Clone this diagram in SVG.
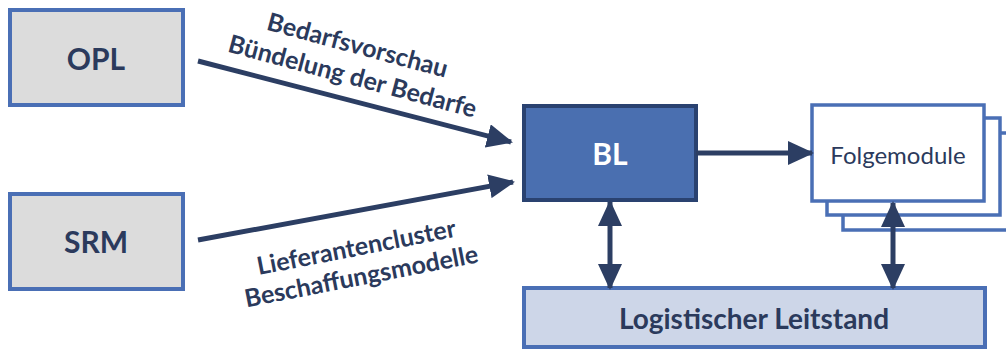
<svg xmlns="http://www.w3.org/2000/svg" width="1006" height="349" viewBox="0 0 1006 349">
<style>
.t{font-family:Lato,"Open Sans",sans-serif;fill:#2b3a5c;text-anchor:middle;dominant-baseline:central}
.b{font-weight:bold}
.gray{fill:#dcdcdc;stroke:#4a6fb5;stroke-width:4}
.fm{fill:#fff;stroke:#4a6fb5;stroke-width:3.5}
.con{stroke:#2c3e63;stroke-width:5;fill:none}
</style>
<defs>
<marker id="ah" markerUnits="userSpaceOnUse" markerWidth="26" markerHeight="24" refX="24" refY="12" orient="auto-start-reverse" viewBox="0 0 26 24">
<path d="M0,0 L26,12 L0,24 Z" fill="#2c3e63"/>
</marker>
</defs>
<rect width="1006" height="349" fill="#fff"/>
<g id="opl"><rect class="gray" x="10" y="10" width="173" height="95"/><text class="t b" x="96" y="58" font-size="30">OPL</text></g>
<g id="srm"><rect class="gray" x="10" y="194" width="173" height="95"/><text class="t b" x="96" y="241" font-size="30">SRM</text></g>
<g id="bl"><rect x="524" y="106" width="172" height="94" fill="#4a6fb0" stroke="#2a4270" stroke-width="4"/><text class="t b" x="610" y="153" font-size="30" style="fill:#fff">BL</text></g>
<g id="folgemodule">
<rect class="fm" x="843" y="133" width="180" height="97"/>
<rect class="fm" x="827" y="118" width="173" height="97"/>
<rect class="fm" x="812" y="105" width="172" height="96"/>
<text class="t" x="898" y="154" font-size="24">Folgemodule</text>
</g>
<g id="leitstand"><rect x="524" y="288" width="461" height="59" fill="#cdd6e8" stroke="#4a6fb5" stroke-width="4"/><text class="t b" x="754" y="318" font-size="28">Logistischer Leitstand</text></g>
<g id="connectors">
<line class="con" x1="198" y1="61" x2="511" y2="142" marker-end="url(#ah)"/>
<line class="con" x1="198" y1="240" x2="513" y2="182" marker-end="url(#ah)"/>
<line class="con" x1="696" y1="153" x2="812" y2="153" marker-end="url(#ah)"/>
<line class="con" x1="610" y1="202" x2="610" y2="288" marker-start="url(#ah)" marker-end="url(#ah)"/>
<line class="con" x1="893" y1="203" x2="893" y2="288" marker-start="url(#ah)" marker-end="url(#ah)"/>
</g>
<g id="labels">
<text class="t b" font-size="25" transform="translate(358,44) rotate(15)">Bedarfsvorschau</text>
<text class="t b" font-size="25" transform="translate(353,75) rotate(15)">Bündelung der Bedarfe</text>
<text class="t b" font-size="25" transform="translate(356,246) rotate(-11)">Lieferantencluster</text>
<text class="t b" font-size="25" transform="translate(361,275) rotate(-11)">Beschaffungsmodelle</text>
</g>
</svg>
